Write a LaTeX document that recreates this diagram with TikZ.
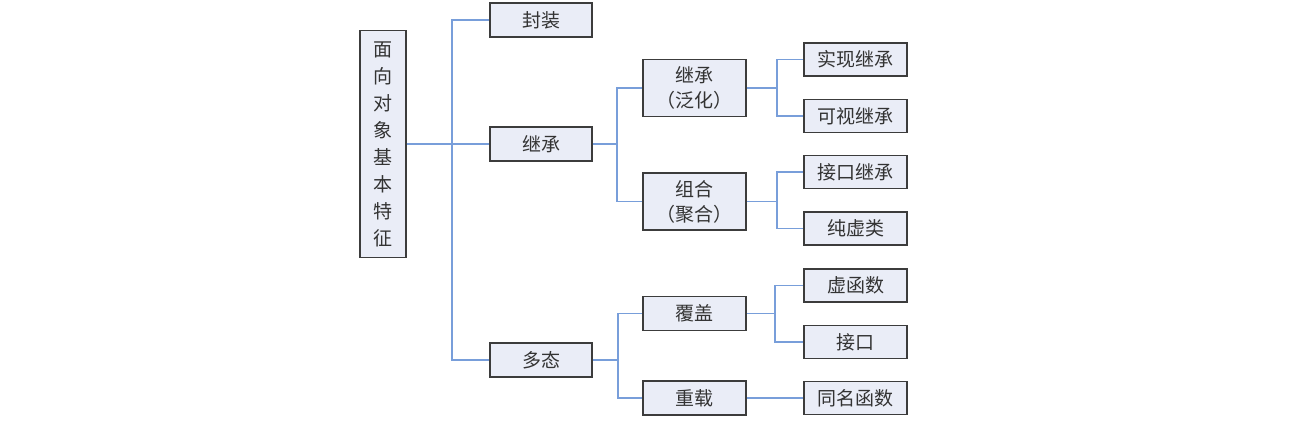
\documentclass[tikz,border=0pt]{standalone}
\usepackage{fontspec}
\setmainfont{Noto Sans CJK SC}
\definecolor{boxfill}{RGB}{234,237,247}
\definecolor{boxline}{RGB}{60,60,60}
\definecolor{linkblue}{RGB}{120,158,218}
\tikzset{%
        every node/.style = {font = \fontsize{19}{25}\selectfont, text = black!80},
        item/.style = {rectangle, draw = boxline, fill = boxfill, line width = 1.5pt, inner sep = 0pt, align = center},
        top/.style = {item, minimum width = 46pt, minimum height = 227pt, font = \fontsize{19}{27}\selectfont},
        level/.style = {item, minimum width = 102pt, minimum height = 34pt},
        sub/.style = {item, minimum width = 103pt, minimum height = 34pt},
        tall/.style = {sub, minimum height = 57pt},
        leaf/.style = {item, minimum width = 103pt, minimum height = 33pt},
        link/.style = {draw = linkblue, line width = 1.5pt}
    }

\begin{document}
\begin{tikzpicture}[x = 1pt, y = -1pt]
				\useasboundingbox (0,0) rectangle (1293,430);
				% root
				\node[top]			(root)			at (383,144)		{面\\向\\对\\象\\基\\本\\特\\征};
				% first level
				\node[level]		(feng)			at (541,20)			{封装};
				\node[level]		(jicheng)		at (541,144)		{继承};
				\node[level]		(duotai)		at (541,360)		{多态};
				% second level
				\node[tall]			(fanhua)		at (694.5,88)		{继承\\（泛化）};
				\node[tall]			(juhe)			at (694.5,201.5)	{组合\\（聚合）};
				\node[sub]			(fugai)			at (694.5,313.5)	{覆盖};
				\node[sub]			(chongzai)		at (694.5,398)		{重载};
				% leaves
				\node[leaf]			(shixian)		at (855.5,59.5)		{实现继承};
				\node[leaf]			(keshi)			at (855.5,116)		{可视继承};
				\node[leaf]			(jiekoujc)		at (855.5,172)		{接口继承};
				\node[leaf]			(chunxu)		at (855.5,228.5)	{纯虚类};
				\node[leaf]			(xuhanshu)		at (855.5,285.5)	{虚函数};
				\node[leaf]			(jiekou)		at (855.5,342)		{接口};
				\node[leaf]			(tongming)		at (855.5,398)		{同名函数};

				% connectors
				\draw[link] (root.east) -- (jicheng.west);
				\foreach \child in {feng, duotai}
					\draw[link] (root.east) -- ++(45,0) |- (\child.west);
				\foreach \child in {fanhua, juhe}
					\draw[link] (jicheng.east) -- ++(24,0) |- (\child.west);
				\foreach \child in {fugai, chongzai}
					\draw[link] (duotai.east) -- ++(25,0) |- (\child.west);
				\foreach \child in {shixian, keshi}
					\draw[link] (fanhua.east) -- ++(30,0) |- (\child.west);
				\foreach \child in {jiekoujc, chunxu}
					\draw[link] (juhe.east) -- ++(30,0) |- (\child.west);
				\foreach \child in {xuhanshu, jiekou}
					\draw[link] (fugai.east) -- ++(28,0) |- (\child.west);
				\draw[link] (chongzai.east) -- (tongming.west);
			\end{tikzpicture}
\end{document}
